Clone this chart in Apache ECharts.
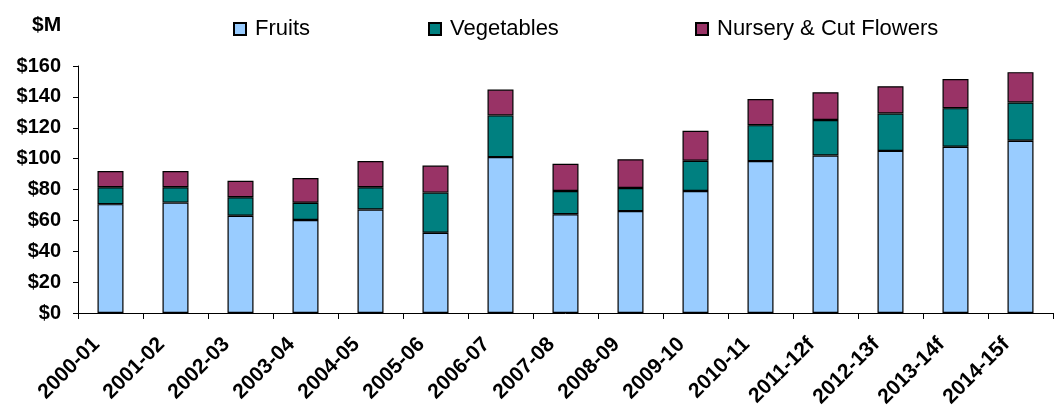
<!DOCTYPE html>
<html>
<head>
<meta charset="utf-8">
<script src="https://cdn.jsdelivr.net/npm/echarts@6/dist/echarts.min.js"></script>
<style>
  html, body { margin: 0; padding: 0; background: #fff; }
  #chart { width: 1057px; height: 408px; }
</style>
</head>
<body>
<div id="chart"></div>
<script>
// Crop values by year, $ millions (f = forecast)
const years = ['2000-01', '2001-02', '2002-03', '2003-04', '2004-05', '2005-06', '2006-07', '2007-08',
  '2008-09', '2009-10', '2010-11', '2011-12f', '2012-13f', '2013-14f', '2014-15f'];
const fruits = [70.5, 71.5, 63, 60.2, 67, 52, 101, 64, 66, 79, 98.4, 102, 105, 107.7, 111.6];
const vegetables = [11, 10, 12, 11.2, 14.5, 26, 27, 15, 15, 19.6, 23.3, 23, 24.2, 25, 24.8];
const nursery = [10.5, 10.5, 10.7, 16, 17, 17.5, 16.7, 17.7, 18.6, 19.4, 16.9, 18, 17.7, 18.8, 19.6];
const seriesNames = ['Fruits', 'Vegetables', 'Nursery & Cut Flowers'];
const yTicks = { min: 0, max: 160, step: 20 };

const labelFont = '"Liberation Sans", Arial, sans-serif';
const colors = ['#99CCFF', '#008080', '#993366'];
const legendLeft = [228, 423, 690];

function barSeries(i, data) {
  return {
    name: seriesNames[i],
    type: 'bar',
    stack: 'total',
    data: data,
    barWidth: '40%',
    itemStyle: { color: colors[i], borderColor: '#000', borderWidth: 1.2 }
  };
}

// one legend block per series so each key sits at its own spot
const legends = seriesNames.map((name, i) => ({
  data: [name],
  left: legendLeft[i],
  top: 13,
  icon: 'rect',
  itemWidth: 12,
  itemHeight: 12,
  textStyle: { fontFamily: labelFont, fontSize: 22, color: '#000', padding: [0, 0, 0, 4] }
}));

const chart = echarts.init(document.getElementById('chart'), null, { renderer: 'canvas' });
chart.setOption({
  animation: false,
  title: {
    text: '$M',
    left: 27,
    top: 10,
    textStyle: { fontFamily: labelFont, fontWeight: 'bold', fontSize: 21, color: '#000' }
  },
  legend: legends,
  grid: { left: 78, right: 4, top: 66, bottom: 95, containLabel: false, outerBoundsMode: 'none' },
  xAxis: {
    type: 'category',
    data: years,
    axisLine: { lineStyle: { color: '#000', width: 1 } },
    axisTick: { show: true, length: 6, lineStyle: { color: '#000' } },
    axisLabel: {
      interval: 0,
      rotate: 45,
      margin: 14,
      padding: [0, 20, 0, 0],
      fontFamily: labelFont,
      fontWeight: 'bold',
      fontSize: 21,
      color: '#000'
    }
  },
  yAxis: {
    type: 'value',
    min: yTicks.min,
    max: yTicks.max,
    interval: yTicks.step,
    splitLine: { show: false },
    axisLine: { show: true, lineStyle: { color: '#000', width: 1 } },
    axisTick: { show: true, length: 5, lineStyle: { color: '#000' } },
    axisLabel: {
      margin: 17,
      fontFamily: labelFont,
      fontWeight: 'bold',
      fontSize: 20,
      color: '#000',
      formatter: v => '$' + v
    }
  },
  series: [
    barSeries(0, fruits),
    barSeries(1, vegetables),
    barSeries(2, nursery)
  ]
});
</script>
</body>
</html>
